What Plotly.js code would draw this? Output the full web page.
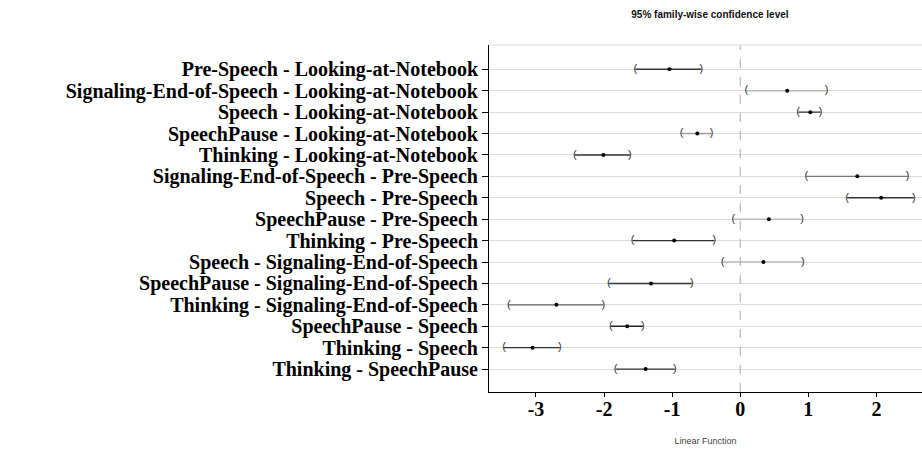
<!DOCTYPE html>
<html>
<head>
<meta charset="utf-8">
<script src="https://cdn.plot.ly/plotly-3.0.1.min.js"></script>
<style>html,body{margin:0;padding:0;background:#fff;overflow:hidden;}</style>
</head>
<body>
<div id="chart" style="width:922px;height:449px;"></div>
<script>
const comparisons = [
  "Pre-Speech - Looking-at-Notebook",
  "Signaling-End-of-Speech - Looking-at-Notebook",
  "Speech - Looking-at-Notebook",
  "SpeechPause - Looking-at-Notebook",
  "Thinking - Looking-at-Notebook",
  "Signaling-End-of-Speech - Pre-Speech",
  "Speech - Pre-Speech",
  "SpeechPause - Pre-Speech",
  "Thinking - Pre-Speech",
  "Speech - Signaling-End-of-Speech",
  "SpeechPause - Signaling-End-of-Speech",
  "Thinking - Signaling-End-of-Speech",
  "SpeechPause - Speech",
  "Thinking - Speech",
  "Thinking - SpeechPause"
];
const diff = [-1.04, 0.69, 1.03, -0.63, -2.01, 1.72, 2.07, 0.42, -0.97, 0.34, -1.31, -2.70, -1.66, -3.05, -1.39];
const lwr  = [-1.54, 0.09, 0.85, -0.86, -2.43, 0.97, 1.57, -0.10, -1.58, -0.26, -1.93, -3.40, -1.90, -3.47, -1.83];
const upr  = [-0.57, 1.27, 1.18, -0.42, -1.62, 2.46, 2.55, 0.91, -0.38, 0.92, -0.71, -2.01, -1.43, -2.65, -0.96];
const xTicks = [-3, -2, -1, 0, 1, 2];

// styling (not data)
const lineColors = ["#333","#bbb","#444","#999","#333","#777","#333","#bbb","#333","#bbb","#333","#666","#222","#333","#333"];

const traces = [];
comparisons.forEach((c, i) => {
  traces.push({
    type: 'scatter', mode: 'lines',
    x: [lwr[i], upr[i]], y: [c, c],
    line: {color: lineColors[i], width: 1.4},
    hoverinfo: 'skip', showlegend: false
  });
});
traces.push({
  type: 'scatter', mode: 'text',
  x: lwr, y: comparisons, text: comparisons.map(() => '('),
  textposition: 'middle center',
  textfont: {family: 'Liberation Sans', size: 11, color: '#333'},
  showlegend: false, hoverinfo: 'skip'
});
traces.push({
  type: 'scatter', mode: 'text',
  x: upr, y: comparisons, text: comparisons.map(() => ')'),
  textposition: 'middle center',
  textfont: {family: 'Liberation Sans', size: 11, color: '#333'},
  showlegend: false, hoverinfo: 'skip'
});
traces.push({
  type: 'scatter', mode: 'markers',
  x: diff, y: comparisons,
  marker: {color: '#000', size: 4},
  showlegend: false
});

const layout = {
  width: 922, height: 449,
  margin: {l: 489, r: 0, t: 45, b: 57},
  paper_bgcolor: '#fff', plot_bgcolor: '#fff',
  title: {
    text: '95% family-wise confidence level',
    font: {family: 'Liberation Sans', size: 10, color: '#111', weight: 'bold'},
    x: 0.77, xanchor: 'center', xref: 'container',
    y: 0.967, yanchor: 'middle', yref: 'container'
  },
  xaxis: {
    range: [-3.69, 2.67],
    tickmode: 'array', tickvals: xTicks, ticktext: xTicks.map(String),
    tickfont: {family: 'Liberation Serif', size: 20, color: '#000', weight: 'bold'},
    ticks: 'outside', ticklen: 4, tickcolor: '#000',
    ticklabelstandoff: -5,
    showgrid: false, zeroline: false,
    showline: true, linecolor: '#000', linewidth: 1,
    title: {text: 'Linear Function', font: {family: 'Liberation Sans', size: 9, color: '#444'}, standoff: 18}
  },
  yaxis: {
    type: 'category',
    categoryorder: 'array', categoryarray: comparisons,
    tickmode: 'array', tickvals: comparisons, ticktext: comparisons,
    range: [15.07, -1.135],
    tickfont: {family: 'Liberation Serif', size: 20, color: '#000', weight: 'bold'},
    ticks: 'outside', ticklen: 6, tickcolor: '#000',
    showgrid: true, gridcolor: '#dcdcdc', gridwidth: 1,
    zeroline: false,
    showline: true, linecolor: '#000', linewidth: 1
  },
  shapes: [
    {type: 'line', xref: 'x', yref: 'paper', x0: 0, x1: 0, y0: 0, y1: 1,
     line: {color: '#aaa', width: 1, dash: 'dash'}},
    {type: 'line', xref: 'paper', yref: 'paper', x0: 0, x1: 1, y0: 1, y1: 1,
     line: {color: '#dcdcdc', width: 1}}
  ]
};

Plotly.newPlot('chart', traces, layout, {displayModeBar: false, staticPlot: true});
</script>
</body>
</html>
